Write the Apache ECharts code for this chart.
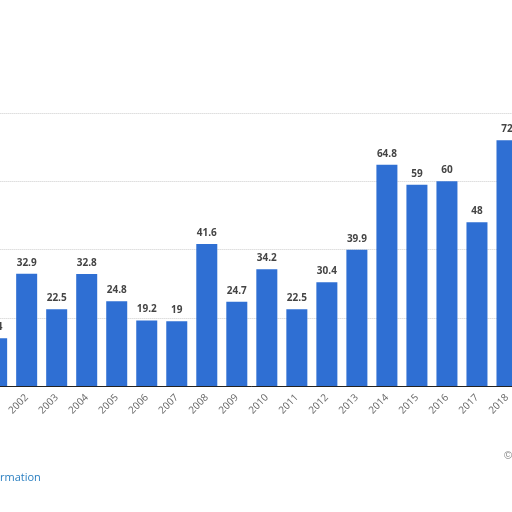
<!DOCTYPE html>
<html><head><meta charset="utf-8">
<script src="https://cdn.jsdelivr.net/npm/echarts@6/dist/echarts.min.js"></script>
<style>html,body{margin:0;padding:0;background:#fff;overflow:hidden;width:512px;height:512px}#c{position:absolute;left:-25px;top:0;width:547px;height:512px}</style>
</head><body><div id="c"></div>
<script>
const years = ['2001','2002','2003','2004','2005','2006','2007','2008','2009','2010','2011','2012','2013','2014','2015','2016','2017','2018'];
const values = [14, 32.9, 22.5, 32.8, 24.8, 19.2, 19, 41.6, 24.7, 34.2, 22.5, 30.4, 39.9, 64.8, 59, 60, 48, 72];
const chart = echarts.init(document.getElementById('c'));
chart.setOption({
  animation: false,
  backgroundColor: '#fff',
  grid: {left: 0, right: 0, top: 113, bottom: 126, containLabel: false},
  xAxis: {type: 'category', data: years,
    axisLine: {lineStyle: {color: '#222', width: 1}}, axisTick: {show: false},
    axisLabel: {rotate: 45, color: '#666', fontSize: 10, fontFamily: 'Open Sans', margin: 10}},
  yAxis: {type: 'value', min: 0, max: 80, interval: 20, axisLabel: {show: false},
    splitLine: {lineStyle: {type: 'dotted', color: '#ccc'}}},
  series: [{type: 'bar', data: values, barWidth: 21,
    itemStyle: {color: '#2f6fd3'},
    label: {show: true, position: 'top', color: '#444', fontWeight: 'bold', fontSize: 10, fontFamily: 'Open Sans', distance: 6}}],
  graphic: [
    {type: 'text', left: 25, top: 472, style: {text: 'rmation', fill: '#2a7fc1', fontSize: 11, fontFamily: 'Open Sans'}},
    {type: 'text', left: 529, top: 450, style: {text: '©', fill: '#888', fontSize: 11}}
  ]
});
</script></body></html>
